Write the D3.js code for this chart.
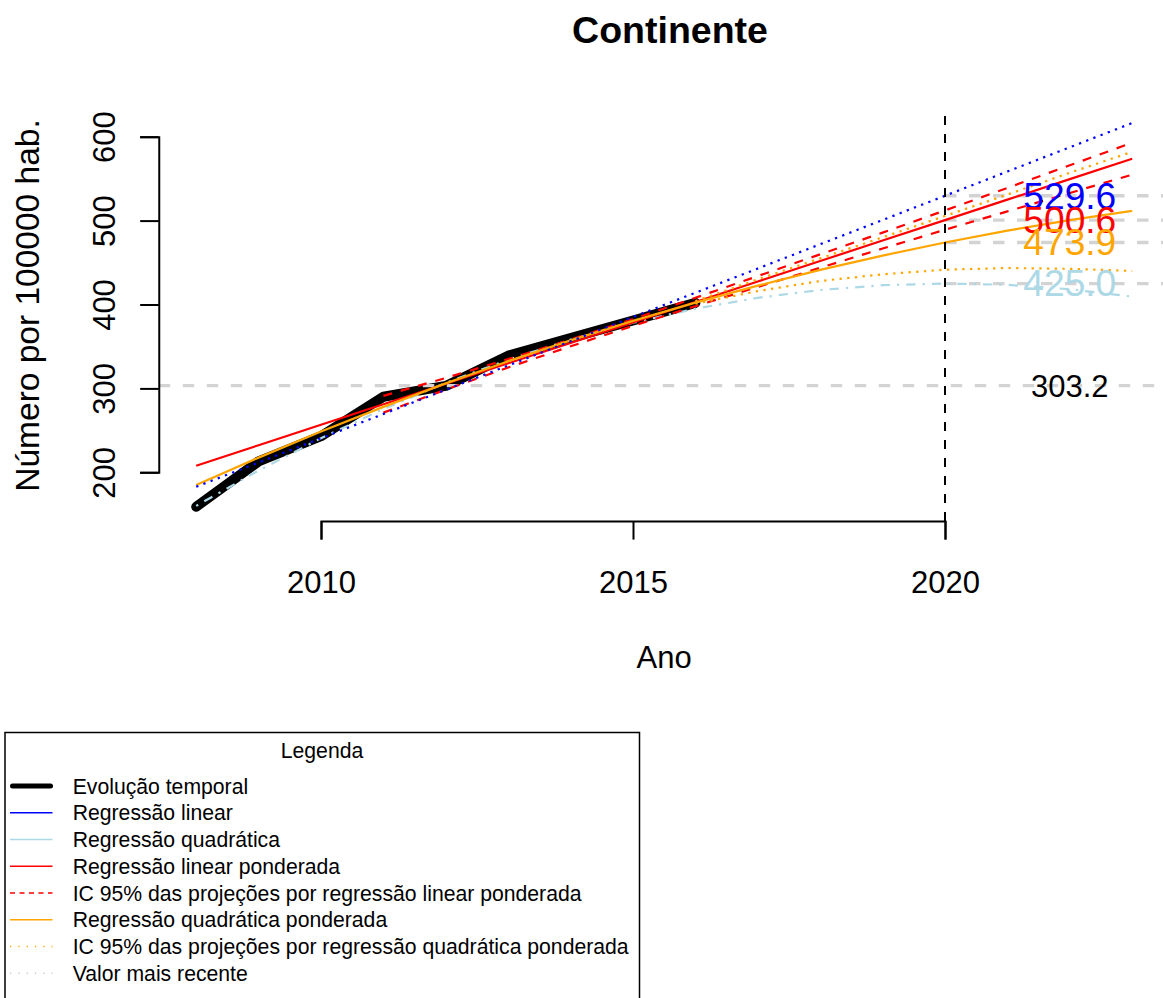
<!DOCTYPE html>
<html>
<head>
<meta charset="utf-8">
<script src="https://cdn.jsdelivr.net/npm/d3@7"></script>
<style>
  html, body { margin: 0; padding: 0; background: #fff; }
  svg { display: block; font-family: "Liberation Sans", Arial, Helvetica, sans-serif; }
</style>
</head>
<body>
<svg id="chart" width="1163" height="998"></svg>
<script>
// ---------- data ----------
const obsYears = [2008, 2009, 2010, 2011, 2012, 2013, 2014, 2015, 2016];
const obsValues = [159, 213, 243, 290, 303, 339, 360, 381, 402];

const projYears = [2008, 2009, 2010, 2011, 2012, 2013, 2014, 2015, 2016, 2017, 2018, 2019, 2020, 2021, 2022, 2023];
const linearReg = [182.8, 211.7, 240.6, 269.5, 298.4, 327.3, 356.2, 385.1, 414.0, 442.9, 471.8, 500.7, 529.6, 558.5, 587.4, 616.3];
const quadReg = [160.0, 202.1, 240.6, 275.4, 306.6, 334.2, 358.1, 378.3, 395.0, 408.0, 417.3, 423.0, 425.0, 423.5, 418.2, 409.4];
const wLinearReg = [207.9, 232.3, 256.7, 281.1, 305.5, 329.9, 354.2, 378.6, 403.0, 427.4, 451.8, 476.2, 500.6, 525.0, 549.4, 573.8];
const wQuadReg = [184.9, 217.5, 248.5, 278.0, 306.0, 332.4, 357.2, 380.5, 402.3, 422.5, 441.2, 458.3, 473.9, 488.0, 500.5, 511.5];

const ciLinYears = [2011, 2012, 2013, 2014, 2015, 2016, 2017, 2018, 2019, 2020, 2021, 2022, 2023];
const ciLinUpper = [291.1, 312.5, 334.9, 358.2, 382.6, 408.0, 433.9, 459.8, 485.7, 512.1, 539.0, 565.9, 592.8];
const ciLinLower = [271.1, 298.5, 324.9, 350.2, 374.6, 398.0, 420.9, 443.8, 466.7, 489.1, 511.0, 532.9, 554.8];

const ciQuadYears = [2016, 2017, 2018, 2019, 2020, 2021, 2022, 2023];
const ciQuadUpper = [404, 430, 455, 480, 505.5, 531, 557, 582];
const ciQuadLower = [401, 416, 428, 436, 441.5, 443.5, 442.5, 440];

const recentValue = 303.2;
const targetYear = 2020;
const projLabels = [529.6, 500.6, 473.9, 425.0];
const projLabelColors = ["#0000ff", "#ff0000", "#ffa500", "#add8e6"];

const xTicks = [2010, 2015, 2020];
const yTicks = [200, 300, 400, 500, 600];

const legendItems = [
  "Evolução temporal",
  "Regressão linear",
  "Regressão quadrática",
  "Regressão linear ponderada",
  "IC 95% das projeções por regressão linear ponderada",
  "Regressão quadrática ponderada",
  "IC 95% das projeções por regressão quadrática ponderada",
  "Valor mais recente"
];

// ---------- layout ----------
const svg = d3.select("#chart");
svg.append("rect").attr("width", 1163).attr("height", 998).attr("fill", "#fff");

const x = d3.scaleLinear().domain([2010, 2020]).range([321, 945]);
const y = d3.scaleLinear().domain([200, 600]).range([472.3, 136.7]);
const plotLeft = x(2007.4), plotRight = x(2023.6), plotTop = 116, plotBottom = 521;
const BASE = 31;

svg.append("defs").append("clipPath").attr("id", "plotclip")
  .append("rect").attr("x", plotLeft).attr("y", plotTop)
  .attr("width", plotRight - plotLeft).attr("height", plotBottom - plotTop);

const plot = svg.append("g").attr("clip-path", "url(#plotclip)");

const line = d3.line().x(d => x(d[0])).y(d => y(d[1]));
const zip = (xs, ys) => xs.map((v, i) => [v, ys[i]]);

// observed series (thick black)
plot.append("path").datum(zip(obsYears, obsValues))
  .attr("d", line).attr("fill", "none").attr("stroke", "#000")
  .attr("stroke-width", 10).attr("stroke-linecap", "round").attr("stroke-linejoin", "round");

// reference horizontal: most recent value
plot.append("line").attr("x1", plotLeft).attr("x2", plotRight)
  .attr("y1", y(recentValue)).attr("y2", y(recentValue))
  .attr("stroke", "#d3d3d3").attr("stroke-width", 3.3).attr("stroke-dasharray", "11.5,12.5");

// projection horizontals from 2020
plot.selectAll("line.proj").data(projLabels).enter().append("line")
  .attr("x1", x(targetYear)).attr("x2", plotRight)
  .attr("y1", d => y(d)).attr("y2", d => y(d))
  .attr("stroke", "#d3d3d3").attr("stroke-width", 3.3).attr("stroke-dasharray", "11.5,12.5");

// quadratic regression (light blue dash-dot)
plot.append("path").datum(zip(projYears, quadReg)).attr("d", line)
  .attr("fill", "none").attr("stroke", "#add8e6").attr("stroke-width", 2.2)
  .attr("stroke-dasharray", "2.3,7,9.3,7");

// weighted linear (red)
plot.append("path").datum(zip(projYears, wLinearReg)).attr("d", line)
  .attr("fill", "none").attr("stroke", "#ff0000").attr("stroke-width", 2.2);
[ciLinUpper, ciLinLower].forEach(arr => {
  plot.append("path").datum(zip(ciLinYears, arr)).attr("d", line)
    .attr("fill", "none").attr("stroke", "#ff0000").attr("stroke-width", 2.2)
    .attr("stroke-dasharray", "9,9");
});

// weighted quadratic (orange)
plot.append("path").datum(zip(projYears, wQuadReg)).attr("d", line)
  .attr("fill", "none").attr("stroke", "#ffa500").attr("stroke-width", 2.2);
[ciQuadUpper, ciQuadLower].forEach(arr => {
  plot.append("path").datum(zip(ciQuadYears, arr)).attr("d", line)
    .attr("fill", "none").attr("stroke", "#ffa500").attr("stroke-width", 2.2)
    .attr("stroke-dasharray", "2.3,5.4");
});

// linear regression (blue dotted)
plot.append("path").datum(zip(projYears, linearReg)).attr("d", line)
  .attr("fill", "none").attr("stroke", "#0000ff").attr("stroke-width", 2.2)
  .attr("stroke-dasharray", "2.3,5.4");

// vertical target year
plot.append("line").attr("x1", x(targetYear)).attr("x2", x(targetYear))
  .attr("y1", plotTop).attr("y2", plotBottom)
  .attr("stroke", "#000").attr("stroke-width", 2).attr("stroke-dasharray", "9,9");

// value labels
const LBL = 36;
svg.selectAll("text.plab").data(projLabels).enter().append("text")
  .attr("x", x(2022)).attr("y", d => y(d) + LBL * 0.358)
  .attr("text-anchor", "middle").attr("font-size", LBL)
  .attr("textLength", 93).attr("lengthAdjust", "spacingAndGlyphs")
  .attr("fill", (d, i) => projLabelColors[i])
  .text(d => d.toFixed(1));
svg.append("text").attr("x", x(2022)).attr("y", y(recentValue) + BASE * 0.358)
  .attr("text-anchor", "middle").attr("font-size", BASE).attr("fill", "#000")
  .text(recentValue.toFixed(1));

// ---------- axes ----------
const xAxis = d3.axisBottom(x).tickValues(xTicks).tickSize(18.6).tickSizeOuter(18.6)
  .tickPadding(0).tickFormat(d3.format("d"));
const gx = svg.append("g").attr("transform", `translate(0,${plotBottom})`).call(xAxis);
gx.selectAll("path, line").attr("stroke", "#000").attr("stroke-width", 2);
gx.selectAll("text").attr("font-size", BASE).attr("font-family", "Liberation Sans, Arial, sans-serif")
  .attr("fill", "#000").attr("dy", null).attr("y", 592.7 - plotBottom);

const yAxis = d3.axisLeft(y).tickValues(yTicks).tickSize(18.6).tickSizeOuter(18.6).tickPadding(0);
const gy = svg.append("g").attr("transform", `translate(${plotLeft},0)`).call(yAxis);
gy.selectAll("path, line").attr("stroke", "#000").attr("stroke-width", 2);
gy.selectAll("text").attr("font-size", BASE).attr("font-family", "Liberation Sans, Arial, sans-serif")
  .attr("fill", "#000").attr("dy", null).attr("x", null)
  .attr("text-anchor", "middle")
  .attr("transform", `translate(${115 - plotLeft},0) rotate(-90)`);

// titles
svg.append("text").attr("x", 670).attr("y", 43)
  .attr("text-anchor", "middle").attr("font-size", 37.5).attr("font-weight", "bold").text("Continente");
svg.append("text").attr("x", (plotLeft + plotRight) / 2).attr("y", 668)
  .attr("text-anchor", "middle").attr("font-size", BASE).text("Ano");
svg.append("text").attr("transform", `translate(38.5,305.5) rotate(-90)`)
  .attr("text-anchor", "middle").attr("font-size", 33.5).text("Número por 100000 hab.");

// ---------- legend ----------
const LF = 21.2;
const lg = svg.append("g");
lg.append("rect").attr("x", 5).attr("y", 732.5).attr("width", 634.5).attr("height", 320)
  .attr("fill", "#fff").attr("stroke", "#000").attr("stroke-width", 1.5);
lg.append("text").attr("x", 322).attr("y", 758).attr("text-anchor", "middle")
  .attr("font-size", LF).text("Legenda");

const legendStyles = [
  { c: "#000", w: 5, dash: null, cap: "round", x1: 12.5, x2: 50.5 },
  { c: "#0000ff", w: 1.6, dash: null },
  { c: "#add8e6", w: 1.6, dash: null },
  { c: "#ff0000", w: 1.6, dash: null },
  { c: "#ff0000", w: 1.6, dash: "5,4.5" },
  { c: "#ffa500", w: 1.6, dash: null },
  { c: "#ffa500", w: 1.3, dash: "1.3,7" },
  { c: "#c8c8c8", w: 1.3, dash: "1.3,7" }
];
const legRow = lg.selectAll("g.item").data(legendItems).enter().append("g")
  .attr("transform", (d, i) => `translate(0,${786 + i * 26.75})`);
legRow.append("line")
  .attr("x1", (d, i) => legendStyles[i].x1 || 10)
  .attr("x2", (d, i) => legendStyles[i].x2 || 52.5)
  .attr("y1", 0).attr("y2", 0)
  .attr("stroke", (d, i) => legendStyles[i].c)
  .attr("stroke-width", (d, i) => legendStyles[i].w)
  .attr("stroke-linecap", (d, i) => legendStyles[i].cap || "butt")
  .attr("stroke-dasharray", (d, i) => legendStyles[i].dash);
legRow.append("text").attr("x", 72.7).attr("y", LF * 0.358)
  .attr("font-size", LF).text(d => d);
</script>
</body>
</html>
